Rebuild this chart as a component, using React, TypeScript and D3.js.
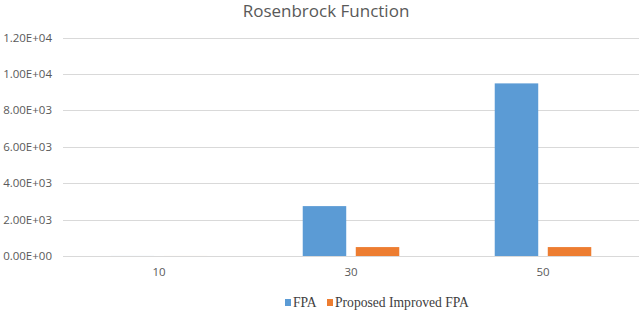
import React, { useEffect, useRef } from 'react';
import * as d3 from 'd3';

const categories = ['10', '30', '50'];
const seriesNames = ['FPA', 'Proposed Improved FPA'];
const fpa = [2, 2740, 9480];
const improved = [1, 490, 490];
const yTicks = [0, 2000, 4000, 6000, 8000, 10000, 12000];
const colors = ['#5B9BD5', '#ED7D31'];

const App = () => {
  const ref = useRef<SVGSVGElement>(null);
  const width = 640;
  const height = 311;

  useEffect(() => {
    const svg = d3.select(ref.current);
    svg.selectAll('*').remove();

    const x0 = d3.scaleBand().domain(categories).range([63, 639]).padding(0);
    const x1 = d3
      .scaleBand()
      .domain(seriesNames)
      .range([0, x0.bandwidth()])
      .paddingInner(0.18)
      .paddingOuter(0.9);
    const y = d3.scaleLinear().domain([0, 12000]).range([256, 37.5]);

    // title
    svg
      .append('text')
      .attr('x', 326)
      .attr('y', 17)
      .attr('text-anchor', 'middle')
      .attr('font-family', 'Open Sans, sans-serif')
      .attr('font-size', 17)
      .attr('fill', '#595959')
      .text('Rosenbrock Function');

    // gridlines + y labels
    const grid = svg.append('g');
    grid
      .selectAll('line')
      .data(yTicks)
      .enter()
      .append('line')
      .attr('x1', 63)
      .attr('x2', 639)
      .attr('y1', (d) => Math.round(y(d)) + 0.5)
      .attr('y2', (d) => Math.round(y(d)) + 0.5)
      .attr('stroke', '#d9d9d9')
      .attr('stroke-width', 1);

    grid
      .selectAll('text')
      .data(yTicks)
      .enter()
      .append('text')
      .attr('x', 52)
      .attr('y', (d) => y(d))
      .attr('dy', '0.35em')
      .attr('text-anchor', 'end')
      .attr('font-family', 'Open Sans, sans-serif')
      .attr('font-size', 11.5)
      .attr('fill', '#595959')
      .text((d) => d.toExponential(2).toUpperCase().replace(/E([+-])(\d)$/, 'E$10$2'));

    // bars
    const values = [fpa, improved];
    const groups = svg
      .append('g')
      .selectAll('g')
      .data(categories)
      .enter()
      .append('g')
      .attr('transform', (d) => `translate(${x0(d)},0)`);

    groups
      .selectAll('rect')
      .data((d, i) => seriesNames.map((s, j) => ({ s, v: values[j][i], j })))
      .enter()
      .append('rect')
      .attr('x', (d) => x1(d.s)!)
      .attr('width', x1.bandwidth())
      .attr('y', (d) => y(d.v))
      .attr('height', (d) => y(0) - y(d.v))
      .attr('fill', (d) => colors[d.j]);

    // x labels
    svg
      .append('g')
      .selectAll('text')
      .data(categories)
      .enter()
      .append('text')
      .attr('x', (d) => x0(d)! + x0.bandwidth() / 2)
      .attr('y', 272)
      .attr('dy', '0.35em')
      .attr('text-anchor', 'middle')
      .attr('font-family', 'Open Sans, sans-serif')
      .attr('font-size', 11.5)
      .attr('fill', '#595959')
      .text((d) => d);

    // legend
    const legend = svg.append('g');
    const items = [
      { name: seriesNames[0], x: 285 },
      { name: seriesNames[1], x: 327 },
    ];
    items.forEach((it, i) => {
      legend
        .append('rect')
        .attr('x', it.x)
        .attr('y', 299)
        .attr('width', 6)
        .attr('height', 7)
        .attr('fill', colors[i]);
      legend
        .append('text')
        .attr('x', it.x + 8)
        .attr('y', 307)
        .attr('font-family', 'Liberation Serif, serif')
        .attr('font-size', 13.6)
        .attr('fill', '#404040')
        .text(it.name);
    });
  }, []);

  return (
    <svg ref={ref} width={width} height={height} style={{ position: 'absolute', left: 0, top: 0 }} />
  );
};

export default App;
